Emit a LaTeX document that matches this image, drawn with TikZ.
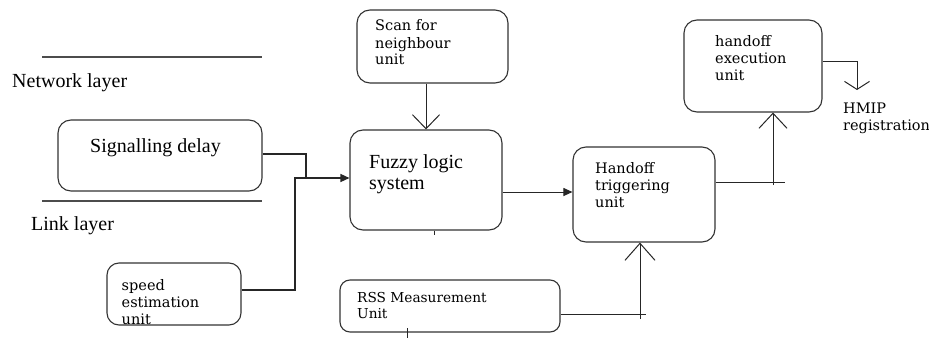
\documentclass[tikz,border=0pt]{standalone}
\usepackage{fontspec}
\setmainfont{Liberation Serif}
\newfontfamily\dvs{DejaVu Serif}
\usetikzlibrary{arrows.meta}
\begin{document}
\begin{tikzpicture}[x=1pt,y=-1pt,
  box/.style={draw=black!80,line width=1.1pt,rounded corners=13pt,inner sep=0pt},
  conn/.style={draw=black!85,line width=1pt},
  vee/.style={-{Straight Barb[length=14pt,width=27pt,line width=1pt]}},
  fill/.style={-{Triangle[length=9pt,width=8pt]}},
  big/.style={font=\fontsize{20}{21}\selectfont,inner sep=0pt,anchor=base west,align=left},
  sml/.style={font=\dvs\fontsize{14.5}{17}\selectfont,inner sep=0pt,anchor=base west,align=left}
]
\useasboundingbox (0,0) rectangle (929,345);
% layer lines
\draw[black!70,line width=1.4pt] (42,57) -- (262,57);
\draw[black!70,line width=1.4pt] (42,201) -- (262,201);
\node[big] (nl) at (12,88) {Network layer};
\node[big] (ll) at (31,230) {Link layer};
% boxes
\node[box,minimum width=204pt,minimum height=71pt] (sd) at (160,155.5) {};
\node[big] (sdt) at (90,152) {Signalling delay};
\node[box,rounded corners=12pt,minimum width=134pt,minimum height=62pt] (se) at (174,294) {};
\node[sml] (set) at (121.5,324) {speed\\estimation\\unit};
\node[box,minimum width=151pt,minimum height=73pt] (sc) at (432.5,46.5) {};
\node[sml] (sct) at (375,65) {Scan for\\neighbour\\unit};
\node[box,minimum width=152pt,minimum height=100pt] (fz) at (426,180) {};
\node[big] (fzt) at (369,189) {Fuzzy logic\\system};
\node[box,minimum width=142pt,minimum height=95pt] (ht) at (644,194.5) {};
\node[sml] (htt) at (595,207.5) {Handoff\\triggering\\unit};
\node[box,rounded corners=10pt,minimum width=220pt,minimum height=52pt] (rs) at (450,306) {};
\node[sml,font=\dvs\fontsize{13.7}{16}\selectfont] (rst) at (357,318) {RSS Measurement\\Unit};
\node[box,minimum width=138pt,minimum height=92pt] (he) at (753,66) {};
\node[sml] (het) at (715,80.5) {handoff\\execution\\unit};
\node[sml] (hm) at (843,130) {HMIP\\registration};
% connectors
\coordinate (m1) at (306,178);
\coordinate (m2) at (295,178);
\draw[conn,line width=1.4pt] (sd.east |- 0,154) -| (m1);
\draw[conn,line width=1.4pt,fill] (se.east |- 0,290) -| (m2) -- (fz.west |- m2);
\draw[conn,vee] (sc.south -| fz.north) -- (fz.north);
\draw[conn] (fz.south) ++(8,0) -- ++(0,4);
\draw[conn,fill] (fz.east |- 0,192) -- (ht.west |- 0,192);
% RSS -> handoff triggering
\coordinate (r1) at (646,314);
\draw[conn] (rs.east |- r1) -- (r1);
\draw[conn,-{Straight Barb[length=17pt,width=30pt,line width=1pt]}] ([xshift=-4pt]ht.south |- 0,319) -- ([xshift=-4pt]ht.south);
\draw[conn] (407,328) -- (407,338);
% handoff triggering -> execution
\coordinate (h1) at (785,182.5);
\draw[conn] (ht.east |- h1) -- (h1);
\draw[conn,-{Straight Barb[length=15pt,width=28pt,line width=1pt]}] ([xshift=20pt]he.south |- 0,185) -- ([xshift=20pt]he.south);
% execution -> HMIP
\coordinate (hp) at (857,90);
\draw[conn,-{Straight Barb[length=8pt,width=25pt,line width=1pt]}] (he.east |- 0,61.5) -| (hp);
\end{tikzpicture}
\end{document}
